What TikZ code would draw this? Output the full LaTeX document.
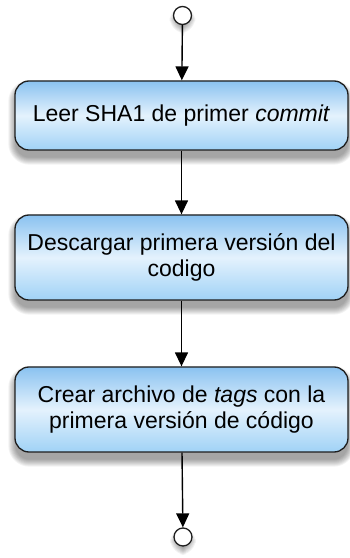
\documentclass[tikz,border=0pt]{standalone}
\usepackage{fontspec}
\setmainfont{Liberation Sans}
\usetikzlibrary{arrows.meta,calc,backgrounds}

\definecolor{boxtop}{RGB}{138,194,240}
\definecolor{boxmid}{RGB}{228,242,253}
\definecolor{boxbot}{RGB}{160,210,246}
\definecolor{edgegray}{RGB}{30,30,30}

\tikzset{
  stepbox/.style={rectangle, rounded corners=14pt, draw=edgegray, line width=1.3pt,
    top color=boxtop, bottom color=boxbot, middle color=boxmid,
    minimum width=333pt, align=center, inner sep=0pt,
    font=\fontsize{23}{26}\selectfont},
  terminal/.style={circle, draw=edgegray, line width=1.3pt, fill=white,
    minimum size=18pt, inner sep=0pt},
  flow/.style={line width=1.4pt, draw=black,
    -{Triangle[width=13pt,length=14pt]}},
}

% soft blurred drop shadow under a named node
\newcommand{\softshadow}[3]{%
  \foreach \k in {0,...,7}{%
    \fill[black, opacity=0.05, rounded corners=#3+\k pt]
      ($(#1.south west)+(-\k pt+1pt,-\k pt-#2)$) rectangle
      ($(#1.north east)+(\k pt-1pt,\k pt-#2)$);
  }%
}

\begin{document}
\begin{tikzpicture}[x=1pt,y=1pt]
  \useasboundingbox (0,0) rectangle (349,558);

  \node[terminal] (start) at (182.5,542.5) {};
  \node[stepbox, minimum height=69pt] (read) at (181.5,442.5)
    {Leer SHA1 de primer \textit{commit}};
  \node[stepbox, minimum height=85pt] (fetch) at (181.5,300.5)
    {Descargar primera versión del\\codigo};
  \node[stepbox, minimum height=85pt] (tags) at (181.5,148.5)
    {Crear archivo de \textit{tags} con la\\primera versión de código};
  \node[terminal] (stop) at (183,21) {};

  \begin{scope}[on background layer]
    \fill[white] (0,0) rectangle (349,558);
    \softshadow{read}{7pt}{14pt}
    \softshadow{fetch}{7pt}{14pt}
    \softshadow{tags}{7pt}{14pt}
    \softshadow{start}{4pt}{9pt}
    \softshadow{stop}{4pt}{9pt}
  \end{scope}

  \draw[flow] (start) -- (read);
  \draw[flow] (read) -- (fetch);
  \draw[flow] (fetch) -- (tags);
  \draw[flow] (tags) -- (stop);
\end{tikzpicture}
\end{document}
